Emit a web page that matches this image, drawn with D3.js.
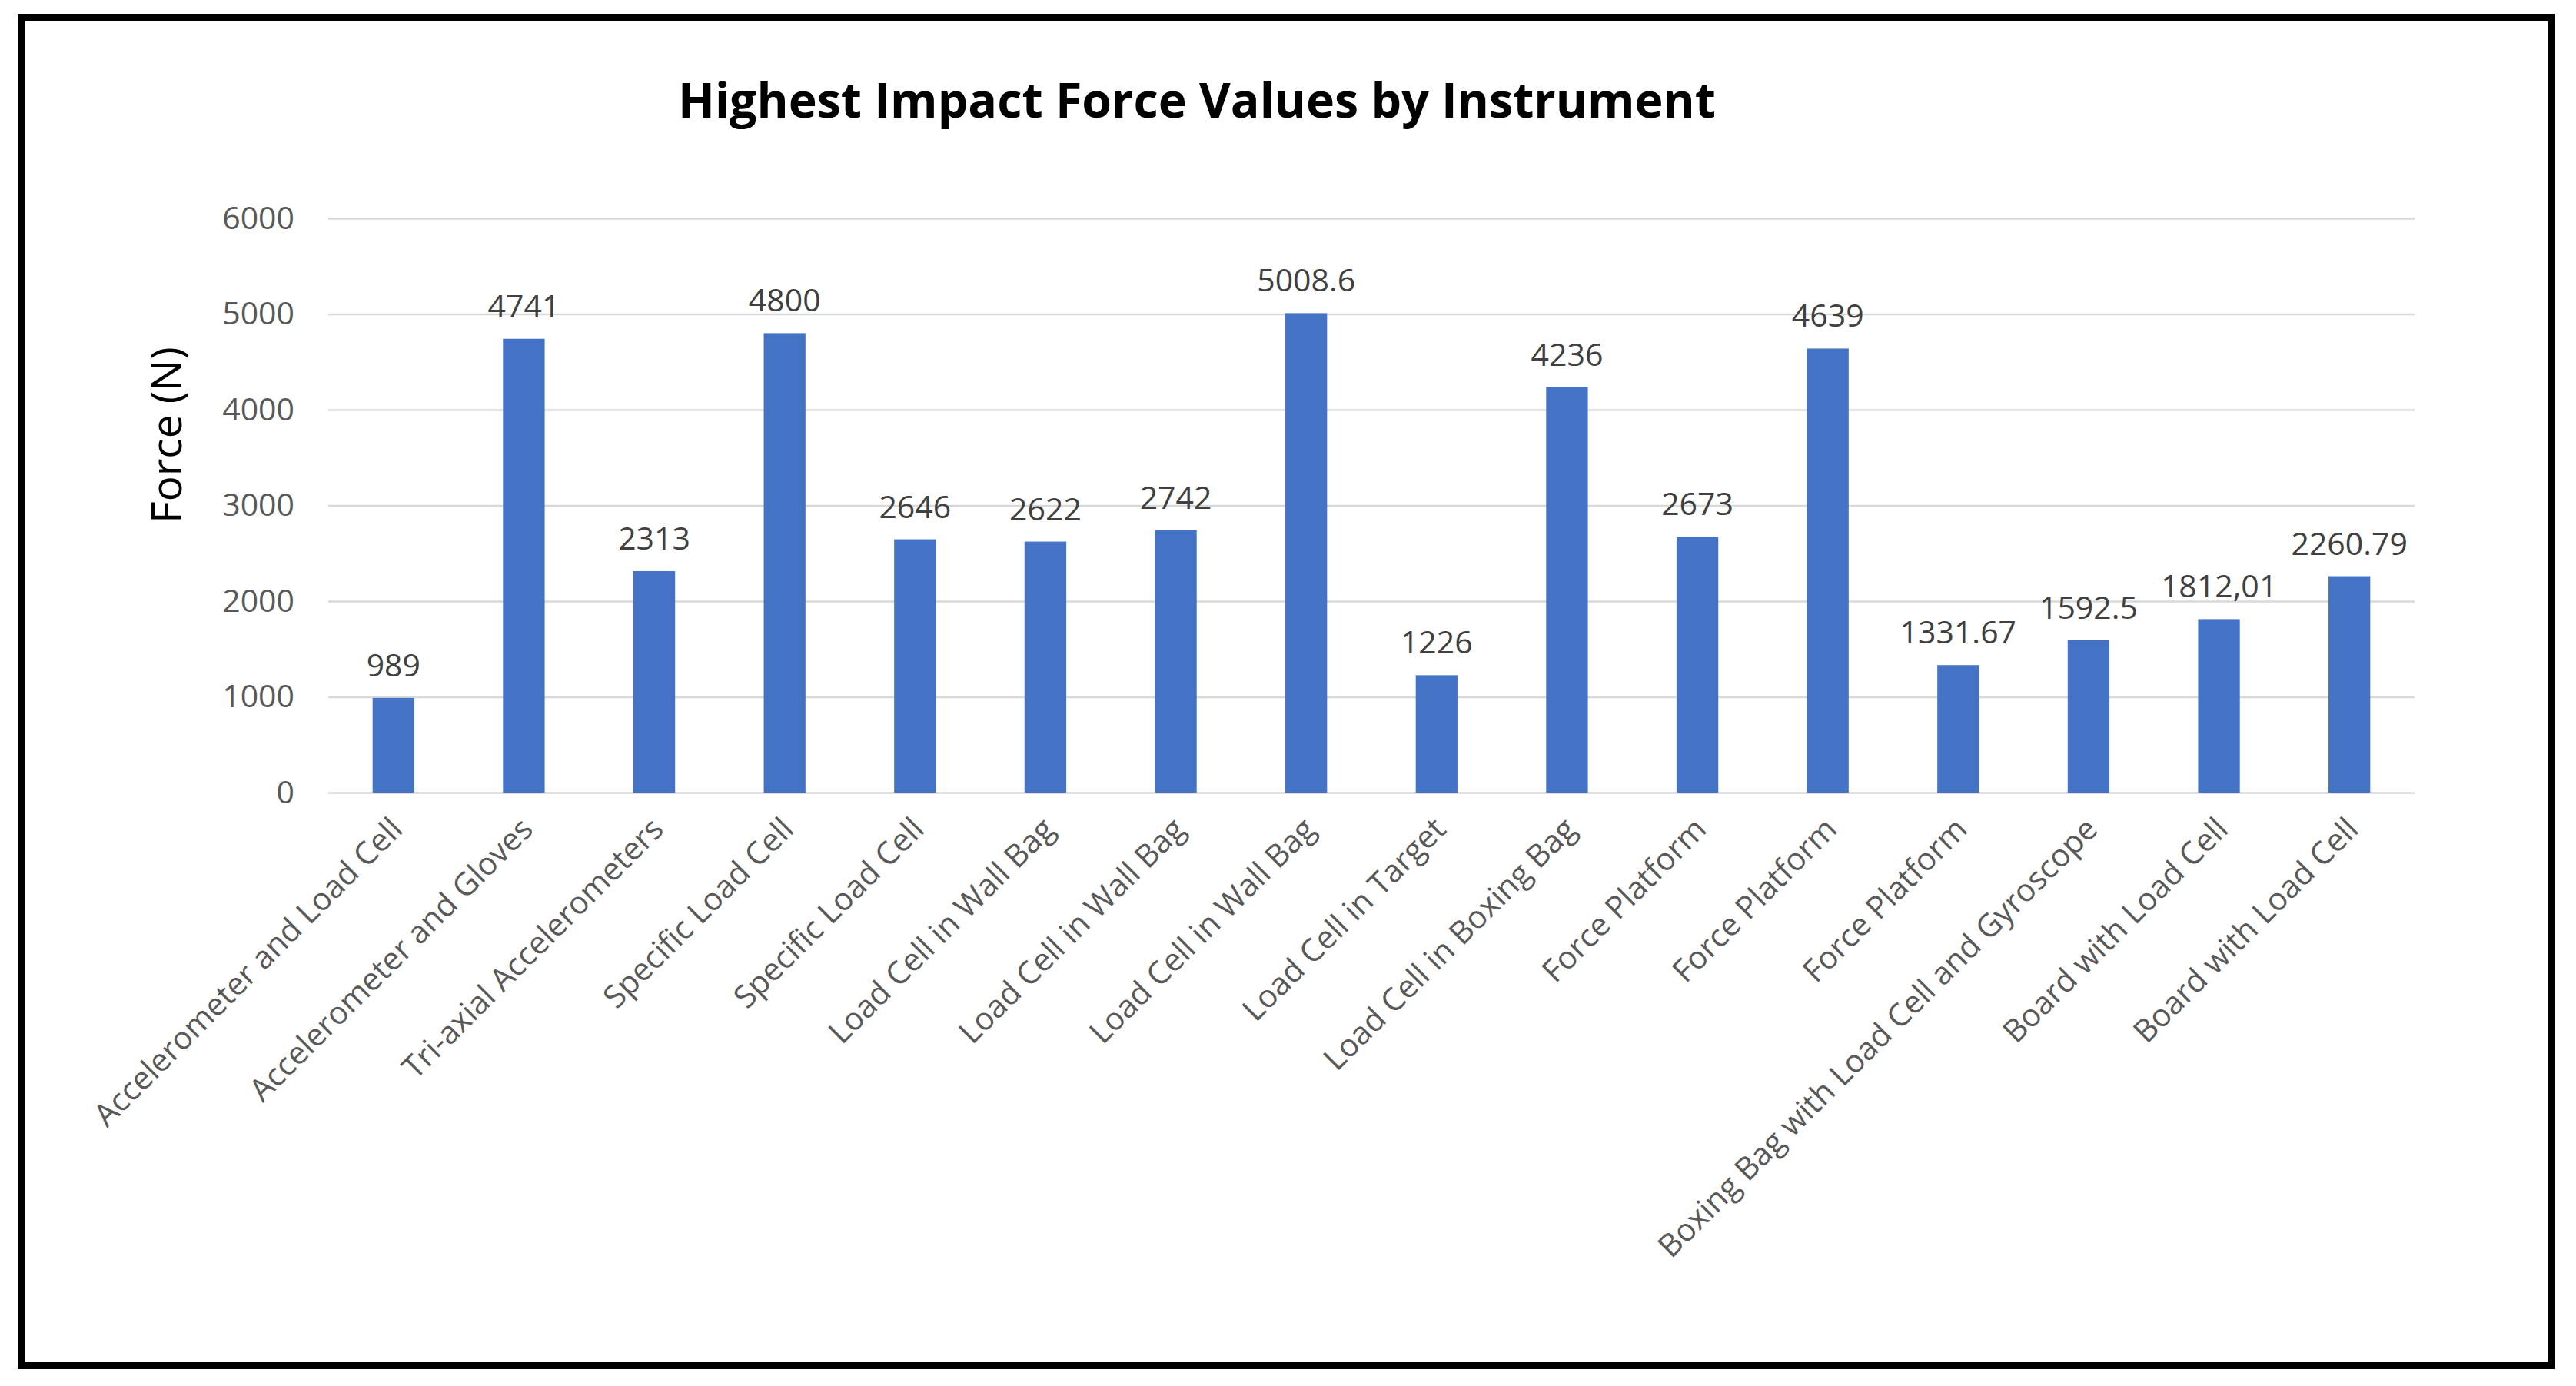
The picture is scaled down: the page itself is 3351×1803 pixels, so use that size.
<!DOCTYPE html>
<html><head><meta charset="utf-8">
<script src="https://cdn.jsdelivr.net/npm/d3@7"></script>
<style>body{margin:0;background:#fff;} svg{display:block}</style>
</head><body>
<svg id="chart" width="3351" height="1803"></svg>
<script>
const categories = [
  "Accelerometer and Load Cell",
  "Accelerometer and Gloves",
  "Tri-axial Accelerometers",
  "Specific Load Cell",
  "Specific Load Cell",
  "Load Cell in Wall Bag",
  "Load Cell in Wall Bag",
  "Load Cell in Wall Bag",
  "Load Cell in Target",
  "Load Cell in Boxing Bag",
  "Force Platform",
  "Force Platform",
  "Force Platform",
  "Boxing Bag with Load Cell and Gyroscope",
  "Board with Load Cell",
  "Board with Load Cell"
];
const values = [989, 4741, 2313, 4800, 2646, 2622, 2742, 5008.6, 1226, 4236, 2673, 4639, 1331.67, 1592.5, 1812.01, 2260.79];
const valueLabels = ["989", "4741", "2313", "4800", "2646", "2622", "2742", "5008.6", "1226", "4236", "2673", "4639", "1331.67", "1592.5", "1812,01", "2260.79"];
const yTicks = [0, 1000, 2000, 3000, 4000, 5000, 6000];
const titleText = "Highest Impact Force Values by Instrument";
const yTitle = "Force (N)";

(function () {
const svg = d3.select("#chart");
const W = 3351, H = 1803;
svg.append("rect").attr("width", W).attr("height", H).attr("fill", "#fff");

// frame
svg.append("rect")
  .attr("x", 27.5).attr("y", 22.5).attr("width", 3292).attr("height", 1754)
  .attr("fill", "none").attr("stroke", "#000").attr("stroke-width", 9);

const pLeft = 427, pRight = 3141, pTop = 284, pBottom = 1031;
const font = "'Open Sans', 'DejaVu Sans', sans-serif";

const x = d3.scaleBand().domain(d3.range(categories.length)).range([pLeft, pRight])
  .paddingInner(0.68).paddingOuter(0.34);
const y = d3.scaleLinear().domain([0, 6000]).range([pBottom, pTop]);

// grid + y labels
const yAxis = d3.axisLeft(y).tickValues(yTicks).tickFormat(d3.format("d"))
  .tickSizeInner(-(pRight - pLeft)).tickSizeOuter(0).tickPadding(44);
const gy = svg.append("g").attr("transform", `translate(${pLeft},0)`).call(yAxis);
gy.select(".domain").remove();
gy.selectAll(".tick line").attr("stroke", "#d9d9d9").attr("stroke-width", 2.5);
gy.selectAll(".tick text").attr("fill", "#595959").style("font-family", font).style("font-size", "41px");

// bars
svg.append("g").selectAll("rect").data(values).join("rect")
  .attr("x", (d, i) => x(i)).attr("width", x.bandwidth())
  .attr("y", d => y(d)).attr("height", d => y(0) - y(d))
  .attr("fill", "#4472C4");

// data labels
svg.append("g").selectAll("text").data(values).join("text")
  .attr("x", (d, i) => x(i) + x.bandwidth() / 2)
  .attr("y", d => y(d) - 28)
  .attr("text-anchor", "middle")
  .attr("fill", "#404040")
  .style("font-family", font).style("font-size", "41px")
  .text((d, i) => valueLabels[i]);

// x labels
svg.append("g").selectAll("text").data(categories).join("text")
  .attr("transform", (d, i) => `translate(${x(i) + x.bandwidth() / 2 + 4},${pBottom + 40}) rotate(-45)`)
  .attr("text-anchor", "end")
  .attr("dy", "0.35em")
  .attr("fill", "#595959")
  .style("font-family", font).style("font-size", "41px")
  .text(d => d);

// title
svg.append("text")
  .attr("x", 1557).attr("y", 153)
  .attr("text-anchor", "middle")
  .attr("textLength", 1350).attr("lengthAdjust", "spacingAndGlyphs")
  .attr("fill", "#000")
  .style("font-family", font).style("font-size", "62px").style("font-weight", "bold")
  .text(titleText);

// y title
svg.append("text")
  .attr("transform", "translate(236,566) rotate(-90)")
  .attr("text-anchor", "middle")
  .attr("fill", "#000")
  .style("font-family", font).style("font-size", "55px")
  .text(yTitle);
})();
</script>
</body></html>
